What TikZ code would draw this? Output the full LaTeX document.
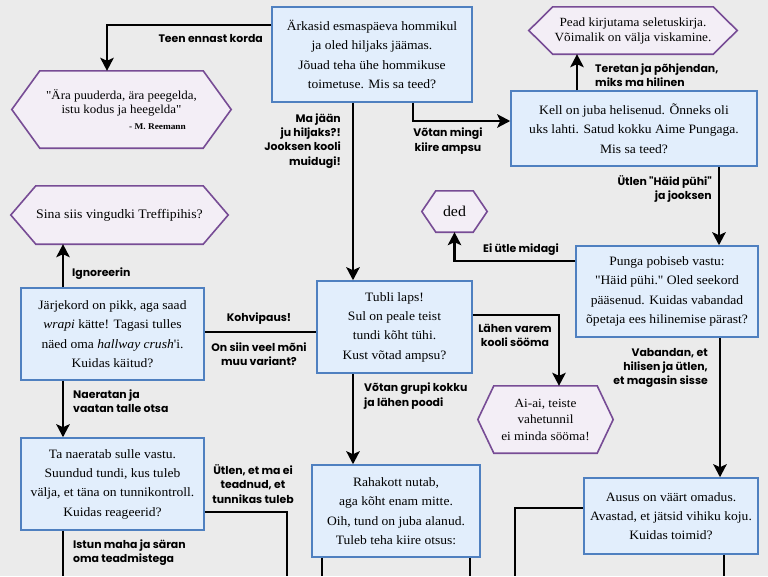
\documentclass[tikz,border=0pt]{standalone}
\usepackage{fontspec}
\setmainfont{Liberation Serif}[Ligatures=TeXOff,FakeStretch=1.06]
\newfontfamily\labfont{Poppins}
\usetikzlibrary{arrows.meta,backgrounds}
\definecolor{bg}{HTML}{EBEBEB}
\definecolor{boxfill}{HTML}{E2EEFC}
\definecolor{boxline}{HTML}{4F80C0}
\definecolor{hexfill}{HTML}{F3EEF6}
\definecolor{hexline}{HTML}{774C95}
\newcommand\hexat[2]{%
  \path[hexpath] (#1.west) -- ([xshift=#2]#1.north west) -- ([xshift=-#2]#1.north east)
    -- (#1.east) -- ([xshift=-#2]#1.south east) -- ([xshift=#2]#1.south west) -- cycle;}
\begin{document}
\begin{tikzpicture}[x=1pt,y=-1pt,
  box/.style={draw=boxline, fill=boxfill, line width=1.6pt, align=center, inner sep=0pt,
    font=\fontsize{12.8}{19.3}\selectfont},
  hexn/.style={align=center, inner sep=0pt, font=\fontsize{13}{15.5}\selectfont},
  hexpath/.style={draw=hexline, fill=hexfill, line width=1.6pt, line join=miter},
  lab/.style={font=\labfont\bfseries\fontsize{10.9}{14.2}\selectfont, inner sep=0pt},
  conn/.style={line width=2.2pt},
  arr/.style={conn, -{Stealth[length=13pt,width=13.5pt,inset=3pt]}},
]
\useasboundingbox (0,0) rectangle (768,576);

% boxes
\node[box, minimum width=200pt, minimum height=95pt] (top) at (372,54.5)
  {Ärkasid esmaspäeva hommikul\\ja oled hiljaks jäämas.\\Jõuad teha ühe hommikuse\\toimetuse. Mis sa teed?};
\node[box, minimum width=246pt, minimum height=75pt] (kell) at (634,128.5)
  {Kell on juba helisenud. Õnneks oli\\uks lahti. Satud kokku Aime Pungaga.\\Mis sa teed?};
\node[box, minimum width=182pt, minimum height=91pt] (punga) at (667,291.5)
  {Punga pobiseb vastu:\\"Häid pühi." Oled seekord\\pääsenud. Kuidas vabandad\\õpetaja ees hilinemise pärast?};
\node[box, minimum width=174pt, minimum height=76pt] (ausus) at (671,516)
  {Ausus on väärt omadus.\\Avastad, et jätsid vihiku koju.\\Kuidas toimid?};
\node[box, minimum width=155pt, minimum height=92pt] (tubli) at (394.5,327)
  {Tubli laps!\\Sul on peale teist\\tundi kõht tühi.\\Kust võtad ampsu?};
\node[box, minimum width=168pt, minimum height=92pt] (raha) at (396,511)
  {Rahakott nutab,\\aga kõht enam mitte.\\Oih, tund on juba alanud.\\Tuleb teha kiire otsus:};
\node[box, minimum width=183pt, minimum height=92pt] (jarj) at (112.5,334)
  {Järjekord on pikk, aga saad\\\textit{wrapi} kätte! Tagasi tulles\\näed oma \textit{hallway crush}'i.\\Kuidas käitud?};
\node[box, minimum width=183pt, minimum height=92pt] (naer) at (112.5,484)
  {Ta naeratab sulle vastu.\\Suundud tundi, kus tuleb\\välja, et täna on tunnikontroll.\\Kuidas reageerid?};

% hexagon nodes
\node[hexn, minimum width=219pt, minimum height=77pt, font=\fontsize{12.2}{13.5}\selectfont] (q1) at (121.5,109.5)
  {"Ära puuderda, ära peegelda,\\istu kodus ja heegelda"\\[2.5pt]\hspace*{72pt}{\fontsize{8.8}{10}\selectfont\bfseries - M. Reemann}};
\node[hexn, minimum width=208pt, minimum height=47pt, font=\fontsize{12.5}{15}\selectfont] (q2) at (633,30.5)
  {Pead kirjutama seletuskirja.\\Võimalik on välja viskamine.};
\node[hexn, minimum width=217pt, minimum height=58pt] (q3) at (119.5,215)
  {Sina siis vingudki Treffipihis?};
\node[hexn, minimum width=65pt, minimum height=41pt, font=\fontsize{15}{17}\selectfont] (q4) at (454.5,211.5)
  {ded};
\node[hexn, minimum width=135pt, minimum height=67pt, font=\fontsize{12.5}{16.5}\selectfont] (q5) at (545.5,419.5)
  {Ai-ai, teiste\\vahetunnil\\ei minda sööma!};

\begin{pgfonlayer}{background}
  \fill[bg] (0,0) rectangle (768,576);
  \hexat{q1}{28pt}
  \hexat{q2}{24pt}
  \hexat{q3}{25pt}
  \hexat{q4}{14pt}
  \hexat{q5}{16pt}
\end{pgfonlayer}

% free ends at the bottom edge
\coordinate (e1) at (63,576);
\coordinate (e2) at (287,576);
\coordinate (e3) at (322,576);
\coordinate (e4) at (470,576);
\coordinate (e5) at (515,576);
\coordinate (e6) at (724,576);

% connectors
\draw[arr] ([yshift=29.5pt]top.west) -| ([xshift=-14.5pt]q1.north);
\draw[arr] ([xshift=-19pt]top.south) -- ([xshift=-41.5pt]tubli.north);
\draw[arr] ([xshift=41pt]top.south) |- ([yshift=7.5pt]kell.west);
\draw[arr] ([xshift=-57pt]kell.north) -- ([xshift=-56pt]q2.south);
\draw[arr] ([xshift=85pt]kell.south) -- ([xshift=52pt]punga.north);
\draw[arr] ([yshift=30.5pt]punga.west) -| (q4.south);
\draw[arr] ([xshift=53pt]punga.south) -- ([xshift=49pt]ausus.north);
\draw[conn] ([yshift=8pt]ausus.west) -| (e5);
\draw[conn] ([xshift=53pt]ausus.south) -- (e6);
\draw[arr] ([yshift=12pt]tubli.east) -| ([xshift=13.5pt]q5.north);
\draw[arr] ([xshift=-41.5pt]tubli.south) -- ([xshift=-43pt]raha.north);
\draw[conn] ([xshift=-74pt]raha.south) -- (e3);
\draw[conn] ([xshift=74pt]raha.south) -- (e4);
\draw[arr] ([xshift=-49.5pt]jarj.north) -- ([xshift=-56.5pt]q3.south);
\draw[conn] ([yshift=-5pt]tubli.west -| jarj.east) -- ([yshift=-5pt]tubli.west);
\draw[arr] ([xshift=-49.5pt]jarj.south) -- ([xshift=-49.5pt]naer.north);
\draw[conn] ([yshift=-28pt]naer.east) -| (e2);
\draw[conn] ([xshift=-49.5pt]naer.south) -- (e1);

% labels
\node[lab, anchor=east] (l1) at (263,39) {Teen ennast korda};
\node[lab, anchor=east, align=right] (l2) at (341,141) {Ma jään\\ju hiljaks?!\\Jooksen kooli\\muidugi!};
\node[lab, align=center] (l3) at (448,141) {Võtan mingi\\kiire ampsu};
\node[lab, anchor=west, align=left] (l4) at (595,75) {Teretan ja põhjendan,\\miks ma hilinen};
\node[lab, anchor=east, align=right] (l5) at (712,189) {Ütlen "Häid pühi"\\ja jooksen};
\node[lab] (l6) at (521,250) {Ei ütle midagi};
\node[lab, anchor=east, align=right] (l7) at (708,368) {Vabandan, et\\hilisen ja ütlen,\\et magasin sisse};
\node[lab, align=center] (l8) at (515,335) {Lähen varem\\kooli sööma};
\node[lab, anchor=west, align=left] (l9) at (364,396) {Võtan grupi kokku\\ja lähen poodi};
\node[lab, anchor=west] (l10) at (72,274) {Ignoreerin};
\node[lab] (l11) at (259,319) {Kohvipaus!};
\node[lab, align=center] (l12) at (259,354) {On siin veel mõni\\muu variant?};
\node[lab, anchor=west, align=left] (l13) at (73,401) {Naeratan ja\\vaatan talle otsa};
\node[lab, align=center] (l14) at (253,484) {Ütlen, et ma ei\\teadnud, et\\tunnikas tuleb};
\node[lab, anchor=west, align=left] (l15) at (73,553) {Istun maha ja säran\\oma teadmistega};
\end{tikzpicture}
\end{document}
